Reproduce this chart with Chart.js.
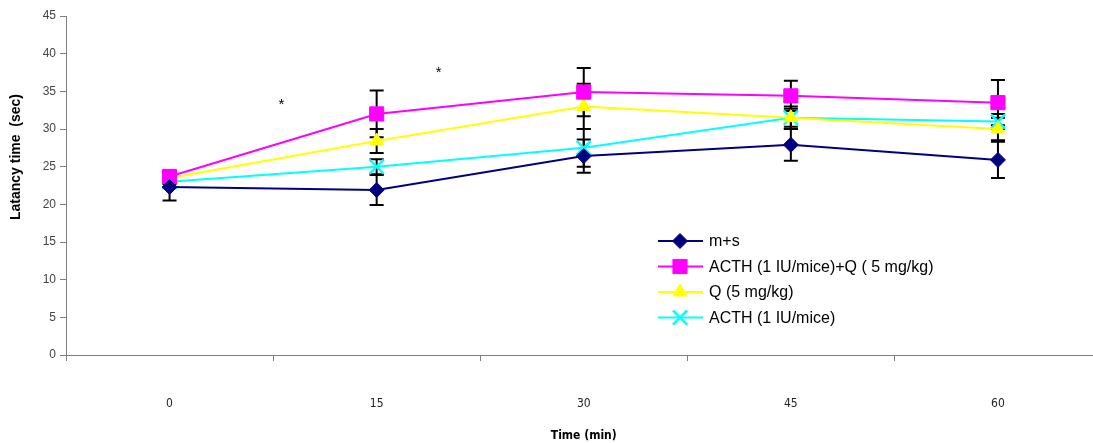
<!DOCTYPE html>
<html>
<head>
<meta charset="utf-8">
<script src="https://cdn.jsdelivr.net/npm/chart.js@4/dist/chart.umd.min.js"></script>
<style>
  html, body { margin: 0; padding: 0; background: #fff; overflow: hidden; }
  #wrap { width: 1114px; height: 443px; }
</style>
</head>
<body>
<div id="wrap"><canvas id="chart"></canvas></div>
<script>
// ── data ──────────────────────────────────────────────────
const times = ['0', '15', '30', '45', '60'];

const msMean    = [22.3, 21.9, 26.4, 27.9, 25.9];
const msErr     = [1.8, 2.0, 2.2, 2.1, 2.4];
const acthQMean = [23.7, 32.0, 34.9, 34.4, 33.5];
const acthQErr  = [0.8, 3.1, 3.2, 2.0, 3.0];
const qMean     = [23.5, 28.4, 33.0, 31.5, 30.0];
const qErr      = [0.8, 1.6, 3.0, 1.5, 1.5];
const acthMean  = [23.0, 25.0, 27.5, 31.5, 31.0];
const acthErr   = [0.8, 1.0, 2.5, 1.2, 1.0];

const seriesLabels = ['m+s', 'ACTH (1 IU/mice)+Q ( 5 mg/kg)', 'Q (5 mg/kg)', 'ACTH (1 IU/mice)'];
const yTitle = 'Latancy time  (sec)';

// significance marks (category index, value)
const starX = [0.54, 1.3];
const starY = [33.6, 37.8];

const narrow = "'Liberation Sans Narrow', 'DejaVu Sans Condensed', 'Liberation Sans', Arial, sans-serif";
const sans = "'Liberation Sans', Arial, sans-serif";

const errors = [msErr, acthQErr, qErr, acthErr];

// error bars drawn under the lines
const errorBars = {
    id: 'errorBars',
    beforeDatasetsDraw(chart) {
        const { ctx, scales: { x, y } } = chart;
        ctx.save();
        ctx.strokeStyle = '#000';
        ctx.lineWidth = 2;
        chart.data.datasets.forEach((ds, i) => {
            const err = errors[i];
            ds.data.forEach((v, j) => {
                const px = x.getPixelForValue(j);
                const top = y.getPixelForValue(v + err[j]);
                const bot = y.getPixelForValue(v - err[j]);
                ctx.beginPath();
                ctx.moveTo(px, top); ctx.lineTo(px, bot);
                ctx.moveTo(px - 7, top); ctx.lineTo(px + 7, top);
                ctx.moveTo(px - 7, bot); ctx.lineTo(px + 7, bot);
                ctx.stroke();
            });
        });
        ctx.restore();
    }
};

// y title, asterisks + legend inside the plot
const extras = {
    id: 'extras',
    afterDraw(chart) {
        const { ctx, chartArea, scales: { x, y } } = chart;
        ctx.save();
        ctx.fillStyle = '#000';

        // y axis title (sits above the axis middle, like the original)
        ctx.save();
        ctx.translate(16, 157);
        ctx.rotate(-Math.PI / 2);
        ctx.font = 'bold 14px ' + sans;
        ctx.textAlign = 'center';
        ctx.textBaseline = 'middle';
        ctx.fillText(yTitle, 0, 0);
        ctx.restore();

        ctx.font = '15px ' + sans;
        ctx.textAlign = 'center';
        ctx.textBaseline = 'middle';
        starX.forEach((sx, i) => {
            ctx.fillText('*', x.getPixelForValue(sx), y.getPixelForValue(starY[i]) + 3);
        });

        const lx = chartArea.left + 592;
        const ly = chartArea.top + 225;
        ctx.font = '16px ' + sans;
        ctx.textAlign = 'left';
        chart.data.datasets.forEach((ds, i) => {
            const yy = ly + i * 25.5;
            ctx.strokeStyle = ds.borderColor;
            ctx.lineWidth = 2;
            ctx.beginPath();
            ctx.moveTo(lx, yy); ctx.lineTo(lx + 45, yy);
            ctx.stroke();
            ctx.fillStyle = ds.backgroundColor;
            ctx.strokeStyle = ds.borderColor;
            ctx.lineWidth = ds.pointBorderWidth;
            Chart.helpers.drawPoint(ctx, {
                pointStyle: ds.pointStyle,
                radius: ds.pointRadius,
                rotation: 0,
                borderWidth: ds.pointBorderWidth
            }, lx + 22, yy);
            ctx.fillStyle = '#000';
            ctx.fillText(seriesLabels[i], lx + 51, yy + 1);
        });
        ctx.restore();
    }
};

function ds(label, data, color, style, radius, bw) {
    return {
        label, data,
        borderColor: color,
        backgroundColor: color,
        borderWidth: 2,
        pointStyle: style,
        pointRadius: radius,
        pointHoverRadius: radius,
        pointBorderWidth: bw || 1,
        tension: 0
    };
}

new Chart(document.getElementById('chart'), {
    type: 'line',
    data: {
        labels: times,
        datasets: [
            ds(seriesLabels[0], msMean, '#000080', 'rectRot', 7.5),
            ds(seriesLabels[1], acthQMean, '#ff00ff', 'rect', 10),
            ds(seriesLabels[2], qMean, '#ffff00', 'triangle', 8),
            ds(seriesLabels[3], acthMean, '#00ffff', 'crossRot', 10, 2.5)
        ]
    },
    options: {
        responsive: true,
        maintainAspectRatio: false,
        animation: false,
        layout: { padding: { top: 16, right: 0, left: 0, bottom: 0 } },
        plugins: { legend: { display: false }, tooltip: { enabled: false } },
        scales: {
            x: {
                type: 'category',
                offset: true,
                grid: { offset: true, drawOnChartArea: false, tickLength: 6, color: '#808080' },
                border: { color: '#808080' },
                ticks: { padding: 36, color: '#222', font: { family: narrow, size: 12 } },
                title: { display: true, text: 'Time (min)', color: '#000', font: { family: narrow, size: 12, weight: 'bold' }, padding: { top: 11, bottom: 0 } },
                afterFit(scale) { scale.height = 88; }
            },
            y: {
                min: 0, max: 45,
                ticks: { stepSize: 5, padding: 4, color: '#444', font: { family: sans, size: 12 } },
                grid: { drawOnChartArea: false, tickLength: 6, color: '#808080' },
                border: { color: '#808080' },
                afterFit(scale) { scale.width = 66; }
            }
        }
    },
    plugins: [errorBars, extras]
});
</script>
</body>
</html>
